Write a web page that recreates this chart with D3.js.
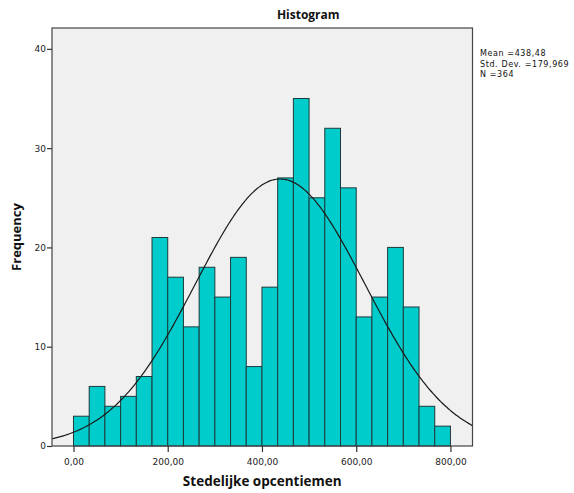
<!DOCTYPE html>
<html>
<head>
<meta charset="utf-8">
<script src="https://cdn.jsdelivr.net/npm/d3@7"></script>
<style>
  html, body { margin: 0; padding: 0; background: #fff; }
  svg { display: block; }
</style>
</head>
<body>
<svg id="chart" width="574" height="493"></svg>
<script>
// Histogram data: bin edges and counts
const binStart = 0;
const binWidth = 800 / 24;
const counts = [3, 6, 4, 5, 7, 21, 17, 12, 18, 15, 19, 8, 16, 27, 35, 25, 32, 26, 13, 15, 20, 14, 4, 2];
const xTicks = [0, 200, 400, 600, 800];
const yTicks = [0, 10, 20, 30, 40];
const stats = { mean: 438.48, sd: 179.969, n: 364 };
const legendLines = ["Mean =438,48", "Std. Dev. =179,969", "N =364"];

const svg = d3.select("#chart");
const plot = { left: 52, top: 28, right: 472.5, bottom: 446 };

const x = d3.scaleLinear().domain([-45.6, 846.8]).range([plot.left, plot.right]);
const y = d3.scaleLinear().domain([0, 42.1]).range([plot.bottom, plot.top]);

// Plot background
svg.append("rect")
  .attr("x", plot.left).attr("y", plot.top)
  .attr("width", plot.right - plot.left).attr("height", plot.bottom - plot.top)
  .attr("fill", "#f0f0f0");

// Bars
const bins = counts.map((c, i) => ({ x0: binStart + i * binWidth, x1: binStart + (i + 1) * binWidth, c }));
svg.append("g").selectAll("rect").data(bins).join("rect")
  .attr("x", d => x(d.x0))
  .attr("y", d => y(d.c))
  .attr("width", d => x(d.x1) - x(d.x0))
  .attr("height", d => y(0) - y(d.c))
  .attr("fill", "#00cccc")
  .attr("stroke", "#1e3a3a")
  .attr("stroke-width", 1);

// Normal curve scaled to counts
const pdf = v => Math.exp(-0.5 * ((v - stats.mean) / stats.sd) ** 2) / (stats.sd * Math.sqrt(2 * Math.PI));
const curvePts = d3.range(x.domain()[0], x.domain()[1] + 0.1, 4).map(v => [v, stats.n * binWidth * pdf(v)]);
svg.append("path")
  .datum(curvePts)
  .attr("fill", "none")
  .attr("stroke", "#1a1a1a")
  .attr("stroke-width", 1.2)
  .attr("d", d3.line().x(d => x(d[0])).y(d => y(d[1])).curve(d3.curveBasis));

// Frame
svg.append("rect")
  .attr("x", plot.left).attr("y", plot.top)
  .attr("width", plot.right - plot.left).attr("height", plot.bottom - plot.top)
  .attr("fill", "none").attr("stroke", "#444").attr("stroke-width", 1.2);

// Axes
const fmt = d => d.toFixed(2).replace(".", ",");
const xAxis = svg.append("g")
  .attr("transform", `translate(0,${plot.bottom})`)
  .call(d3.axisBottom(x).tickValues(xTicks).tickFormat(fmt).tickSize(6).tickSizeOuter(0));
const yAxis = svg.append("g")
  .attr("transform", `translate(${plot.left},0)`)
  .call(d3.axisLeft(y).tickValues(yTicks).tickSize(5).tickSizeOuter(0));
[xAxis, yAxis].forEach(g => {
  g.select(".domain").remove();
  g.selectAll(".tick line").attr("stroke", "#333").attr("stroke-width", 1.2);
  g.selectAll(".tick text")
    .attr("fill", "#222")
    .style("font-family", "'DejaVu Sans', sans-serif")
    .style("font-size", "9px");
});
xAxis.selectAll(".tick text").attr("dy", "1.1em");
yAxis.selectAll(".tick text").attr("x", -6);

// Titles
svg.append("text")
  .attr("x", (plot.left + plot.right) / 2 + 46).attr("y", 19)
  .attr("text-anchor", "middle")
  .style("font-family", "'Open Sans', sans-serif").style("font-weight", "bold").style("font-size", "12px")
  .attr("fill", "#111")
  .text("Histogram");

svg.append("text")
  .attr("x", (plot.left + plot.right) / 2).attr("y", 486)
  .attr("text-anchor", "middle")
  .style("font-family", "'Open Sans', sans-serif").style("font-weight", "bold").style("font-size", "13.5px")
  .attr("fill", "#111")
  .text("Stedelijke opcentiemen");

svg.append("text")
  .attr("transform", `translate(21,${(plot.top + plot.bottom) / 2}) rotate(-90)`)
  .attr("text-anchor", "middle")
  .style("font-family", "'Open Sans', sans-serif").style("font-weight", "bold").style("font-size", "13px")
  .attr("fill", "#111")
  .text("Frequency");

// Summary statistics
svg.append("g").selectAll("text").data(legendLines).join("text")
  .attr("x", 480).attr("y", (d, i) => 56 + i * 10.5)
  .style("font-family", "'DejaVu Sans', sans-serif").style("font-size", "8px")
  .style("letter-spacing", "0.6px")
  .attr("fill", "#111")
  .text(d => d);
</script>
</body>
</html>
